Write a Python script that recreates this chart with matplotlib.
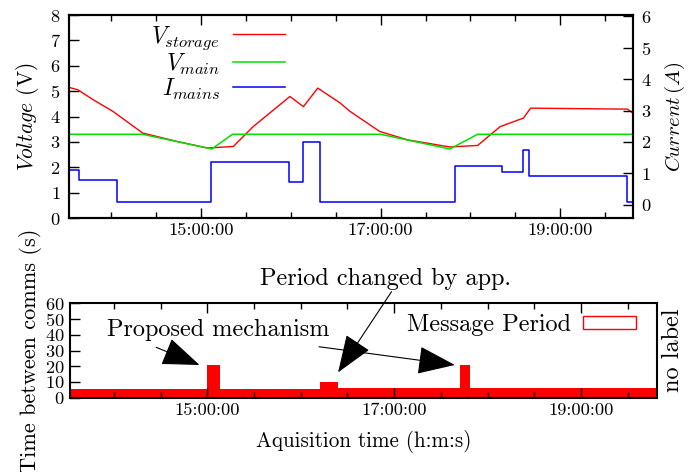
import matplotlib
matplotlib.use("Agg")
import matplotlib.pyplot as plt
from matplotlib.ticker import FixedLocator, MultipleLocator, FuncFormatter
from matplotlib.patches import Patch

plt.rcParams['font.family'] = ['cmr10', 'DejaVu Serif']
plt.rcParams['mathtext.fontset'] = 'cm'
plt.rcParams['axes.formatter.use_mathtext'] = True
plt.rcParams['font.size'] = 13.3

# time in hours of the day
vs_t = [13.53, 13.63, 13.80, 14.02, 14.35, 14.73, 15.07, 15.18, 15.36, 15.58, 15.99, 16.14,
        16.30, 16.55, 16.66, 16.99, 17.30, 17.77, 18.08, 18.33, 18.59, 18.67, 19.75, 19.81]
vs_v = [5.15, 5.05, 4.66, 4.20, 3.35, 3.02, 2.76, 2.78, 2.82, 3.60, 4.79, 4.39,
        5.12, 4.53, 4.20, 3.41, 3.08, 2.80, 2.86, 3.60, 3.94, 4.33, 4.29, 4.13]

vm_t = [13.53, 14.35, 15.12, 15.35, 17.00, 17.77, 18.08, 19.81]
vm_v = [3.3, 3.3, 2.72, 3.3, 3.3, 2.72, 3.3, 3.3]

im_t = [13.53, 13.64, 14.07, 15.11, 15.98, 16.14, 16.33, 17.83, 18.35, 18.59, 18.65, 19.74, 19.81]
im_a = [1.11, 0.79, 0.08, 1.35, 0.71, 2.00, 0.08, 1.22, 1.03, 1.75, 0.90, 0.08, 0.08]

# message period (s)
per_t = [13.53, 15.00, 15.135, 16.21, 16.40, 17.70, 17.81, 19.82]
per_s = [5.3, 21, 5.3, 10, 6, 21, 6, 6]

t_min, t_max = 13.53, 19.81
major_ticks = [15, 17, 19]


def hms(x, pos):
    return "%d:00:00" % round(x)


def style_time_axis(ax):
    ax.set_xlim(t_min, t_max)
    ax.xaxis.set_major_locator(FixedLocator(major_ticks))
    ax.xaxis.set_minor_locator(MultipleLocator(0.5))
    ax.xaxis.set_major_formatter(FuncFormatter(hms))
    ax.tick_params(axis='x', which='both', direction='in', top=True)
    ax.tick_params(axis='x', which='major', length=7, width=1)
    ax.tick_params(axis='x', which='minor', length=4, width=1)
    for s in ax.spines.values():
        s.set_linewidth(1.5)


fig = plt.figure(figsize=(6.9, 4.72), dpi=100)

# ---- top panel
ax = fig.add_axes([0.1, 0.5381, 0.8174, 0.4301])
ax2 = ax.twinx()
l1, = ax.plot(vs_t, vs_v, color='red', lw=1.0)
l2, = ax.plot(vm_t, vm_v, color='#00e000', lw=1.1)
l3, = ax2.plot(im_t, im_a, color='blue', lw=1.1, drawstyle='steps-post')
ax.set_ylim(0, 8)
ax2.set_ylim(-0.424, 6.045)
ax.yaxis.set_major_locator(MultipleLocator(1))
ax2.yaxis.set_major_locator(FixedLocator([0, 1, 2, 3, 4, 5, 6]))
style_time_axis(ax)
ax.tick_params(axis='y', direction='in', length=7, width=1, pad=6)
ax2.tick_params(axis='y', direction='in', length=7, width=1, pad=6)
for s in ax2.spines.values():
    s.set_linewidth(1.5)
ax.set_ylabel(r'$Voltage$ (V)', fontsize=15.5, labelpad=6)
ax2.set_ylabel(r'$Current\,(A)$', fontsize=15, labelpad=8)
ax2.legend([l1, l2, l3], [r'$V_{storage}$', r'$V_{main}$', r'$I_{mains}$'],
           loc='upper right', bbox_to_anchor=(0.383, 0.955), frameon=False,
           markerfirst=False, handlelength=2.2, handletextpad=0.55,
           labelspacing=0.0, borderpad=0, borderaxespad=0, fontsize=17)

# ---- bottom panel
bx = fig.add_axes([0.1014, 0.1574, 0.8503, 0.2])
bx.fill_between(per_t, per_s, step='post', color='red', lw=0)
bx.set_ylim(0, 60)
bx.yaxis.set_major_locator(MultipleLocator(10))
style_time_axis(bx)
bx.tick_params(axis='y', direction='in', length=7, width=1, pad=4)
bx.set_xlabel('Aquisition time (h:m:s)', fontsize=15.2, labelpad=9)
bx.set_ylabel('Time between comms (s)', fontsize=16, labelpad=2)
bx.text(1.028, 0.5, 'no label', rotation=90, transform=bx.transAxes,
        ha='center', va='center', fontsize=17.5)
bx.legend([Patch(facecolor='white', edgecolor='red', lw=1)], ['Message Period'],
          loc='center right', bbox_to_anchor=(0.965, 0.77), frameon=False,
          markerfirst=False, handlelength=2.2, handleheight=0.5,
          handletextpad=0.5, borderpad=0, borderaxespad=0, fontsize=17.5)

arrow = dict(arrowstyle='-|>,head_length=1.2,head_width=0.45', color='black',
             lw=0.8, mutation_scale=20, shrinkA=0, shrinkB=0)
bx.text(15.115, 43, 'Proposed mechanism', ha='center', va='center', fontsize=17.5)
bx.annotate('', xy=(14.917, 20.8), xytext=(14.453, 32.0), arrowprops=arrow)
bx.annotate('', xy=(17.65, 20.8), xytext=(16.196, 32.4), arrowprops=arrow)
bx.text(16.909, 75.3, 'Period changed by app.', ha='center', va='center',
        fontsize=17.5, clip_on=False)
bx.annotate('', xy=(16.40, 16.1), xytext=(16.972, 67.4), arrowprops=arrow,
            annotation_clip=False)

fig.savefig('out.png', dpi=100)
